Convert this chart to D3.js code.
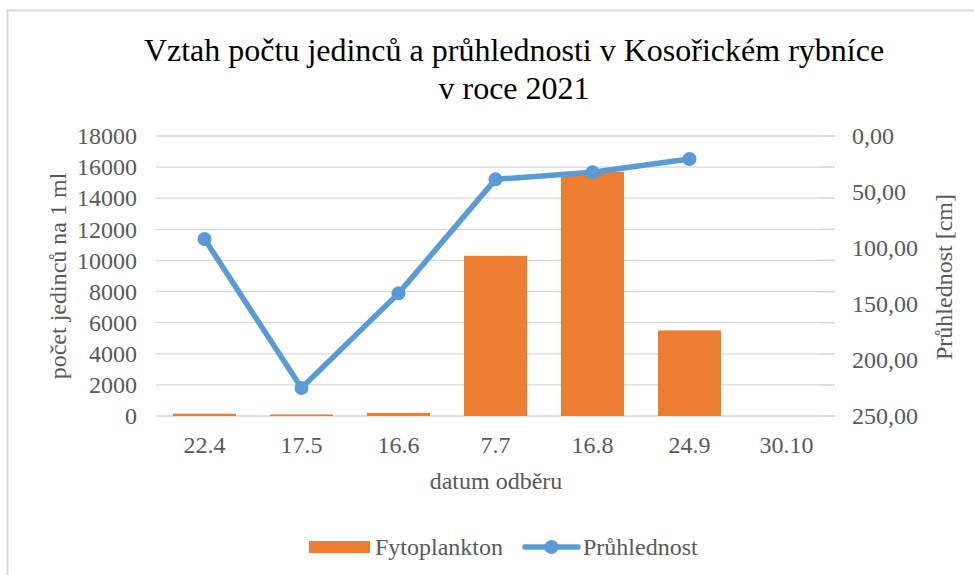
<!DOCTYPE html>
<html><head><meta charset="utf-8">
<script src="https://cdn.jsdelivr.net/npm/d3@7"></script>
<style>body{margin:0;background:#fff}svg{display:block}</style>
</head><body>
<script>
const categories = ["22.4","17.5","16.6","7.7","16.8","24.9","30.10"];
const fytoplankton = [150, 100, 200, 10300, 15700, 5500, null];
const pruhlednost = [92, 225, 140.5, 38.7, 32.4, 20.5, null];
const leftTicks = [0,2000,4000,6000,8000,10000,12000,14000,16000,18000];
const rightTicks = [0,50,100,150,200,250];

const FONT = '"Liberation Serif", "Times New Roman", serif';
const W = 974, H = 575;
const m = {l:156, r:835, t:136, b:416};
const svg = d3.select("body").append("svg").attr("width",W).attr("height",H);
svg.append("rect").attr("x",7.5).attr("y",10.5).attr("width",W).attr("height",H).attr("fill","#fff").attr("stroke","#d9d9d9").attr("stroke-width",2);

const x = d3.scaleBand().domain(categories).range([m.l,m.r]).paddingInner(0.35).paddingOuter(0.175);
const y = d3.scaleLinear().domain([0,18000]).range([m.b,m.t]);
const y2 = d3.scaleLinear().domain([0,250]).range([m.t,m.b]);

svg.append("g").selectAll("line").data(leftTicks).join("line")
  .attr("x1",m.l).attr("x2",m.r).attr("y1",d=>y(d)).attr("y2",d=>y(d))
  .attr("stroke","#d9d9d9").attr("stroke-width",1.3);

const gl = svg.append("g").attr("transform",`translate(${m.l},0)`)
  .call(d3.axisLeft(y).tickValues(leftTicks).tickSize(0).tickPadding(19).tickFormat(d3.format("d")));
const gr = svg.append("g").attr("transform",`translate(${m.r},0)`)
  .call(d3.axisRight(y2).tickValues(rightTicks).tickSize(0).tickPadding(17).tickFormat(d=>d3.format(".2f")(d).replace(".",",")));
const gxg = svg.append("g").attr("transform",`translate(0,${m.b})`)
  .call(d3.axisBottom(x).tickSize(0).tickPadding(20));
[gl,gr,gxg].forEach(g=>{
  g.select(".domain").remove();
  g.attr("font-family",FONT).attr("font-size",24);
  g.selectAll("text").style("font-family",FONT).style("font-size","24px").attr("fill","#595959");
});
svg.append("g").selectAll("line").data(leftTicks).join("line")
  .attr("x1",m.r-15).attr("x2",m.r).attr("y1",d=>y(d)).attr("y2",d=>y(d))
  .attr("stroke","#d9d9d9").attr("stroke-width",1.3);

svg.append("g").selectAll("rect").data(categories.map((c,i)=>({c,v:fytoplankton[i]})).filter(d=>d.v!=null)).join("rect")
  .attr("x",d=>x(d.c)).attr("width",x.bandwidth())
  .attr("y",d=>y(d.v)).attr("height",d=>y(0)-y(d.v)).attr("fill","#ed7d31");

const pts = categories.map((c,i)=>({c,v:pruhlednost[i]})).filter(d=>d.v!=null);
const line = d3.line().x(d=>x(d.c)+x.bandwidth()/2).y(d=>y2(d.v));
svg.append("path").datum(pts).attr("d",line).attr("fill","none").attr("stroke","#5b9bd5").attr("stroke-width",5.5).attr("stroke-linejoin","round");
svg.append("g").selectAll("circle").data(pts).join("circle")
  .attr("cx",d=>x(d.c)+x.bandwidth()/2).attr("cy",d=>y2(d.v)).attr("r",7).attr("fill","#5b9bd5");

function txt(sel){ return sel.style("font-family",FONT); }
const t = txt(svg.append("text")).attr("text-anchor","middle").style("font-size","32px").attr("fill","#000");
t.append("tspan").attr("x",514).attr("y",61).text("Vztah počtu jedinců a průhlednosti v Kosořickém rybníce");
t.append("tspan").attr("x",514).attr("y",99).text("v roce 2021");

txt(svg.append("text")).attr("transform","translate(66,276) rotate(-90)").attr("text-anchor","middle")
  .style("font-size","24px").attr("fill","#595959").text("počet jedinců na 1 ml");
txt(svg.append("text")).attr("transform","translate(952,277) rotate(-90)").attr("text-anchor","middle")
  .style("font-size","24px").attr("fill","#595959").text("Průhlednost [cm]");
txt(svg.append("text")).attr("x",496).attr("y",489).attr("text-anchor","middle")
  .style("font-size","24px").attr("fill","#595959").text("datum odběru");

const lg = svg.append("g");
lg.append("rect").attr("x",309).attr("y",541).attr("width",61).attr("height",12).attr("fill","#ed7d31");
txt(lg.append("text")).attr("x",375).attr("y",555).style("font-size","24px").attr("fill","#595959").text("Fytoplankton");
lg.append("line").attr("x1",525).attr("x2",578).attr("y1",547).attr("y2",547).attr("stroke","#5b9bd5").attr("stroke-width",5.5).attr("stroke-linecap","round");
lg.append("circle").attr("cx",551.5).attr("cy",547).attr("r",7).attr("fill","#5b9bd5");
txt(lg.append("text")).attr("x",583).attr("y",555).style("font-size","24px").attr("fill","#595959").text("Průhlednost");
</script>
</body></html>
